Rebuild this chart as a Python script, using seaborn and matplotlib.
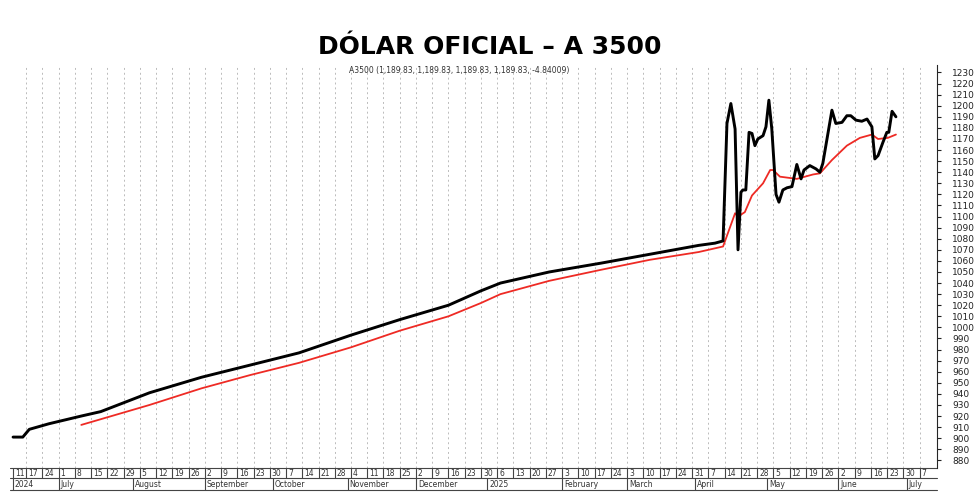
import matplotlib
matplotlib.use("Agg")
import matplotlib.pyplot as plt
import seaborn as sns
import pandas as pd
import numpy as np
from matplotlib.transforms import blended_transform_factory

sns.set_style("white")
plt.rcParams['font.family'] = ['DejaVu Sans']

# trading-day index (0 = 2024-06-11) and values
black_idx = [0, 3, 5, 11, 21, 27, 42, 58, 73, 88, 104, 119, 134, 144, 150, 165, 181, 196, 211, 216, 218.5,
             219.7, 220.9, 222.2, 223.1, 224, 224.6, 225.5, 226.5, 227.4, 228.3, 229.2, 230.8, 231.7, 232.6,
             233.5, 234.8, 235.7, 236.9, 238.2, 239.7, 241.2, 242.5, 243.4, 245.2, 247.1, 248.3, 249.2, 252,
             253.2, 255.1, 256.6, 257.8, 259.4, 261.2, 262.8, 264.3, 265.2, 266.2, 267.7, 268.9, 269.5, 270.5, 271.7]
black_val = [901, 901, 908, 913, 920, 924, 941, 955, 966, 977, 993, 1007, 1020, 1033, 1040, 1050, 1058, 1066, 1074, 1076, 1078,
             1184, 1202, 1179, 1070, 1122, 1124, 1124, 1176, 1175, 1164, 1170, 1173, 1181, 1205,
             1179, 1120, 1113, 1124, 1126, 1127, 1147, 1134, 1142, 1146, 1143, 1140, 1148, 1196,
             1184, 1185, 1191, 1191, 1187, 1186, 1188, 1181, 1152, 1155, 1167, 1176, 1176, 1195, 1190]
red_idx = [21, 42, 58, 73, 88, 104, 119, 134, 144, 150, 165, 181, 196, 211, 218.5, 222.2, 223.1, 225.2,
           227.4, 230.8, 233, 233.9, 236, 241.2, 246.2, 248.3, 252, 256.6, 260.6, 264.3, 266.2, 269.2, 271.7]
red_val = [912, 930, 945, 957, 968, 982, 997, 1010, 1022, 1030, 1042, 1052, 1061, 1068, 1073, 1103, 1100, 1104,
           1119, 1130, 1142, 1142, 1136, 1134, 1138, 1139, 1151, 1164, 1171, 1174, 1170, 1171, 1174]

dates = pd.bdate_range("2024-06-11", periods=290)

fig = plt.figure(figsize=(9.8, 4.98), dpi=100)
ax = fig.add_axes([0.010, 0.060, 0.946, 0.810])

sns.lineplot(x=red_idx, y=red_val, ax=ax, color="#ee2a24", lw=1.3)
sns.lineplot(x=black_idx, y=black_val, ax=ax, color="black", lw=2.1)

ax.set_xlim(-1, 284.3)
ax.set_ylim(873, 1237)
ax.yaxis.tick_right()
ax.set_yticks(np.arange(880, 1231, 10))
ax.tick_params(axis="y", labelsize=6.5, length=3, pad=8, colors="#222")
ax.tick_params(axis="x", length=0, labelbottom=False)
for s in ["top", "left"]:
    ax.spines[s].set_visible(False)
ax.spines["bottom"].set_visible(False)

mondays = [i for i, d in enumerate(dates) if d.weekday() == 0 and i < 284]
for i in mondays:
    ax.axvline(i, color="#bbbbbb", ls=(0, (2, 3)), lw=0.7, zorder=0)

tr = blended_transform_factory(ax.transData, ax.transAxes)
y0, y1, y2 = 0.0, -0.025, -0.055
for yy in (y0, y1, y2):
    ax.plot([-1, 284.3], [yy, yy], transform=tr, color="#444", lw=0.8, clip_on=False)
ticks = [0] + mondays
for i in ticks:
    ax.plot([i, i], [y0, y1], transform=tr, color="#444", lw=0.8, clip_on=False)
    ax.text(i + 0.6, (y0 + y1) / 2, str(dates[i].day), transform=tr, fontsize=5.5,
            va="center", ha="left", color="#333")
prev = None
for i, d in enumerate(dates[:284]):
    if prev is None or d.month != prev.month:
        lab = str(d.year) if (prev is None or d.month == 1) else d.strftime("%B")
        ax.plot([i, i], [y1, y2], transform=tr, color="#444", lw=0.8, clip_on=False)
        ax.text(i + 0.6, (y1 + y2) / 2, lab, transform=tr, fontsize=5.5, va="center", ha="left", color="#333")
    prev = d

fig.text(0.5, 0.905, "DÓLAR OFICIAL – A 3500", ha="center", va="center", fontsize=18,
         fontweight="bold", color="black")
ax.text(0.485, 0.985, "A3500 (1,189.83, 1,189.83, 1,189.83, 1,189.83, -4.84009)", transform=ax.transAxes,
        ha="center", va="center", fontsize=5.5, color="#333")

fig.savefig("out.png", dpi=100)
